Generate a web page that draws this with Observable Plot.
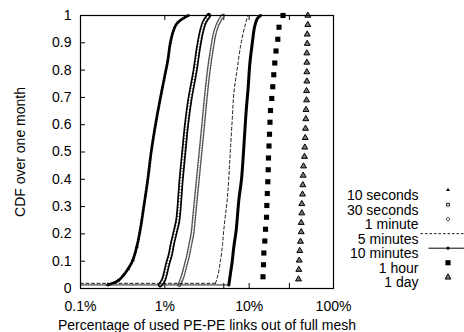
<!DOCTYPE html>
<html><head><meta charset="utf-8">
<script src="https://cdn.jsdelivr.net/npm/d3@7"></script>
<script src="https://cdn.jsdelivr.net/npm/@observablehq/plot@0.6"></script>
<style>body{margin:0;background:#fff;}</style>
</head><body><div id="chart"></div>
<script>
// ---- labels & ticks ----
const seriesNames = ["10 seconds","30 seconds","1 minute","5 minutes","10 minutes","1 hour","1 day"];
const xTicks = [0.1, 1, 5, 10, 30, 100];
const xTickLabels = ["0.1%","1%","5%","10%","30%","100%"];
const yTicks = [0,0.1,0.2,0.3,0.4,0.5,0.6,0.7,0.8,0.9,1];
const yTickLabels = ["0","0.1","0.2","0.3","0.4","0.5","0.6","0.7","0.8","0.9","1"];
const xTitle = "Percentage of used PE-PE links out of full mesh";
const yTitle = "CDF over one month";

// ---- series (x = % of full mesh, y = CDF) ----
const pct10s = [0.211,0.277,0.324,0.371,0.417,0.465,0.510,0.563,0.628,0.689,0.775,0.889,0.991,1.085,1.158,1.267,1.387,1.621,1.909];
const cdf10s = [0.013,0.028,0.049,0.074,0.104,0.153,0.214,0.300,0.400,0.500,0.600,0.700,0.774,0.836,0.897,0.945,0.970,0.988,1.0];

const pct30s = [0.881,0.964,1.027,1.085,1.158,1.233,1.327,1.425,1.563,1.679,1.807,1.977,2.29,2.51,2.74,2.95,3.32];
const cdf30s = [0.013,0.031,0.061,0.092,0.122,0.165,0.207,0.250,0.400,0.500,0.600,0.690,0.800,0.884,0.945,0.976,1.0];

const pct1m = [1.481,1.621,1.746,1.873,1.998,2.128,2.206,2.461,2.649,2.851,3.036,3.322,3.645,3.989,4.575,4.923];
const cdf1m = [0.013,0.043,0.080,0.116,0.159,0.202,0.250,0.400,0.500,0.600,0.690,0.800,0.884,0.945,0.988,1.0];

const pct5m = [0.1,3.99,4.27,4.575,4.83,5.00,5.24,5.49,5.72,5.97,6.29,6.58,7.18,8.00,9.05,9.69];
const cdf5m = [0.019,0.019,0.050,0.104,0.160,0.214,0.270,0.324,0.400,0.500,0.616,0.714,0.800,0.897,0.970,1.0];

const pct10m = [0.1,5.74,6.01,6.29,6.58,7.02,7.54,8.11,8.57,9.05,9.30,9.74,10.18,10.87,11.57,12.46,13.63];
const cdf10m = [0.013,0.013,0.056,0.098,0.153,0.214,0.324,0.400,0.500,0.616,0.665,0.738,0.823,0.897,0.957,0.988,1.0];

const pct1h = [14.59,14.79,14.93,15.33,15.63,16.06,16.19,16.41,16.64,16.82,16.95,17.18,17.42,17.65,17.90,18.54,19.04,19.57,20.12,20.80,21.86,22.59,25.19];
const cdf1h = [0.043,0.087,0.130,0.174,0.217,0.261,0.304,0.348,0.391,0.435,0.478,0.522,0.565,0.609,0.652,0.696,0.739,0.783,0.826,0.870,0.913,0.957,1.0];

const pct1d = [38.47,38.8,39.2,39.8,40.6,41.4,41.4,42.1,42.1,42.9,43.3,43.7,44.1,45.3,45.7,46.2,46.6,47.0,47.2,47.9,47.9,48.3,48.3,48.3,48.3,48.8,48.8,49.6,49.6];
const cdf1d = [0.034,0.069,0.103,0.138,0.172,0.207,0.241,0.276,0.310,0.345,0.379,0.414,0.448,0.483,0.517,0.552,0.586,0.621,0.655,0.690,0.724,0.759,0.793,0.828,0.862,0.897,0.931,0.966,1.0];

const rows = (p, c) => p.map((x, i) => ({x, y: c[i]}));
const d10s = rows(pct10s, cdf10s), d30s = rows(pct30s, cdf30s), d1m = rows(pct1m, cdf1m);
const d5m = rows(pct5m, cdf5m), d10m = rows(pct10m, cdf10m), d1h = rows(pct1h, cdf1h), d1d = rows(pct1d, cdf1d);

// ---- layout ----
const W = 464, H = 332, ML = 80, MR = 131, MT = 15, MB = 44;
const plotW = W - ML - MR, plotH = H - MT - MB;
const TICK = 5;
const legendTextX = 418, legendSymX = 447.5, legendY0 = 189.5, legendStep = 14.55;

const hline = (half, off) => ({draw(ctx) { ctx.moveTo(-half + off, 0); ctx.lineTo(half + off, 0); }});

const legendSymbols = [
  [{symbol: "triangle", r: 1.4, fill: "black", stroke: "none"}],
  [{symbol: "square", r: 1.6, fill: "white", stroke: "black", strokeWidth: 0.9}],
  [{symbol: "circle", r: 1.6, fill: "white", stroke: "#444", strokeWidth: 0.9}],
  [{symbol: hline(22, -5.5), r: 1, fill: "none", stroke: "black", strokeWidth: 0.9, strokeDasharray: "2.5,2"}],
  [{symbol: hline(18, -1.5), r: 1, fill: "none", stroke: "black", strokeWidth: 1}, {symbol: "square", r: 1.2, fill: "black", stroke: "black", strokeWidth: 0.6}],
  [{symbol: "square", r: 2.9, fill: "black", stroke: "none"}],
  [{symbol: "triangle", r: 2.2, fill: "#777", stroke: "black", strokeWidth: 1}]
];

const legendMarks = [];
seriesNames.forEach((name, i) => {
  const dy = legendY0 + i * legendStep - MT;
  legendMarks.push(Plot.text([name], {frameAnchor: "top-right", dx: legendTextX - (W - MR), dy, textAnchor: "end", fontSize: 14, fill: "black"}));
  for (const s of legendSymbols[i]) {
    legendMarks.push(Plot.dot([0], {frameAnchor: "top-right", dx: legendSymX - (W - MR), dy, ...s}));
  }
});

const chart = Plot.plot({
  width: W, height: H, marginLeft: ML, marginRight: MR, marginTop: MT, marginBottom: MB,
  style: {fontFamily: "'Liberation Sans', Arial, Helvetica, sans-serif", fontSize: "14px", background: "white", color: "black", overflow: "visible"},
  x: {type: "log", domain: [0.1, 100]},
  y: {domain: [0, 1]},
  marks: [
    // tick marks (inward)
    Plot.ruleX(xTicks, {x: d => d, insetTop: plotH - TICK, stroke: "black", strokeWidth: 1}),
    Plot.ruleX(xTicks, {x: d => d, insetBottom: plotH - TICK, stroke: "black", strokeWidth: 1}),
    Plot.ruleY(yTicks, {y: d => d, insetRight: plotW - TICK, stroke: "black", strokeWidth: 1}),
    Plot.axisX(xTicks, {tickSize: 0, tickPadding: 13, tickFormat: (d) => xTickLabels[xTicks.indexOf(d)], label: xTitle, labelAnchor: "center", labelOffset: 41, labelArrow: "none", fontSize: 14}),
    Plot.axisY(yTicks, {tickSize: 0, tickPadding: 9, tickFormat: d => yTickLabels[yTicks.indexOf(d)], label: yTitle, labelAnchor: "center", labelOffset: 65, labelArrow: "none", fontSize: 14}),
    // 10 seconds
    Plot.line(d10s, {x: "x", y: "y", stroke: "black", strokeWidth: 2.8, strokeDasharray: "2,1.2", curve: "catmull-rom"}),
    Plot.dot(d10s.slice(0, 6), {x: "x", y: "y", symbol: "triangle", r: 1.5, fill: "black"}),
    // 30 seconds
    Plot.line(d30s, {x: "x", y: "y", stroke: "black", strokeWidth: 5, curve: "catmull-rom"}),
    Plot.line(d30s, {x: "x", y: "y", stroke: "white", strokeWidth: 1.7, strokeDasharray: "1.2,1.8", curve: "catmull-rom"}),
    // 1 minute
    Plot.line(d1m, {x: "x", y: "y", stroke: "#555", strokeWidth: 4, curve: "catmull-rom"}),
    Plot.line(d1m, {x: "x", y: "y", stroke: "white", strokeWidth: 1.5, strokeDasharray: "1,1.5", curve: "catmull-rom"}),
    // 5 minutes
    Plot.line(d5m.slice(0, 2), {x: "x", y: "y", stroke: "black", strokeWidth: 0.9, strokeDasharray: "3,2.5"}),
    Plot.line(d5m.slice(1), {x: "x", y: "y", stroke: "black", strokeWidth: 0.9, strokeDasharray: "3,2.5", curve: "catmull-rom"}),
    // 10 minutes
    Plot.line(d10m.slice(0, 2), {x: "x", y: "y", stroke: "#222", strokeWidth: 1}),
    Plot.line(d10m.slice(1), {x: "x", y: "y", stroke: "black", strokeWidth: 3, curve: "catmull-rom"}),
    // 1 hour
    Plot.dot(d1h, {x: "x", y: "y", symbol: "square", r: 2.9, fill: "black"}),
    // 1 day
    Plot.dot(d1d, {x: "x", y: "y", symbol: "triangle", r: 2.2, fill: "#777", stroke: "black", strokeWidth: 1}),
    Plot.frame({stroke: "black", strokeWidth: 1.2}),
    ...legendMarks
  ]
});
document.getElementById("chart").appendChild(chart);
</script>
</body></html>
